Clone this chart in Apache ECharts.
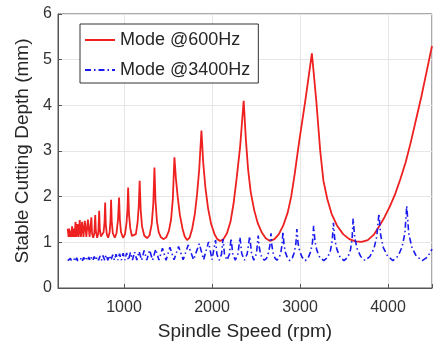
<!DOCTYPE html>
<html>
<head>
<meta charset="utf-8">
<script src="https://cdn.jsdelivr.net/npm/echarts@6/dist/echarts.min.js"></script>
<style>
  html, body { margin: 0; padding: 0; background: #fff; }
  #chart { width: 435px; height: 347px; }
</style>
</head>
<body>
<div id="chart"></div>
<script>
// values (spindle speed in rpm, depth in mm)
var redSpeed = [360, 363, 370, 377, 385, 393, 401, 410, 419, 429, 439, 449, 460, 472, 484, 497, 510, 524, 539, 555, 572, 590, 609,
  629, 637, 650, 663,
  673, 680, 695, 708,
  718, 725, 737, 752, 768, 779,
  786, 793, 805, 820, 837, 847,
  853, 861, 873, 895, 915, 932,
  944, 953, 966, 990, 1012, 1030, 1040,
  1047, 1057, 1072, 1090, 1112, 1135, 1155, 1168,
  1178, 1190, 1205, 1230, 1262, 1290, 1315, 1333,
  1346, 1358, 1375, 1395, 1420, 1451, 1480, 1510, 1535, 1555,
  1573, 1590, 1610, 1635, 1665, 1690, 1717, 1745, 1775, 1805, 1830, 1855,
  1880, 1900, 1925, 1955, 1990, 2030, 2060, 2094, 2130, 2170, 2210, 2245, 2280, 2320,
  2360, 2385, 2410, 2440, 2480, 2520, 2565, 2610, 2660, 2710, 2760, 2810, 2860, 2900, 2940, 2990, 3060,
  3135, 3185, 3230, 3266, 3310, 3360, 3420, 3490, 3560, 3630, 3700, 3770, 3840, 3900, 3960, 4020, 4080, 4140, 4200, 4260, 4320, 4380, 4440, 4500];
var redDepth = [1.3, 1.25, 1.12, 1.3, 1.12, 1.25, 1.12, 1.35, 1.12, 1.3, 1.12, 1.45, 1.12, 1.4, 1.12, 1.49, 1.12, 1.45, 1.12, 1.47, 1.12, 1.5, 1.12,
  1.55, 1.2, 1.1, 1.2,
  1.6, 1.25, 1.1, 1.2,
  1.69, 1.3, 1.13, 1.1, 1.22, 1.45,
  1.87, 1.4, 1.17, 1.1, 1.22, 1.5,
  1.93, 1.45, 1.2, 1.1, 1.2, 1.5,
  1.98, 1.5, 1.22, 1.1, 1.18, 1.45, 1.75,
  2.2, 1.6, 1.3, 1.14, 1.1, 1.18, 1.45, 1.8,
  2.35, 1.7, 1.35, 1.15, 1.09, 1.15, 1.4, 1.85,
  2.64, 1.9, 1.45, 1.22, 1.11, 1.07, 1.11, 1.25, 1.5, 1.95,
  2.86, 2.4, 2.0, 1.6, 1.3, 1.13, 1.05, 1.1, 1.3, 1.62, 2.05, 2.6,
  3.45, 2.75, 2.2, 1.75, 1.4, 1.17, 1.07, 1.03, 1.07, 1.2, 1.45, 1.85, 2.4, 3.1,
  4.1, 3.25, 2.6, 2.1, 1.7, 1.42, 1.22, 1.09, 1.03, 1.07, 1.18, 1.37, 1.65, 2.0, 2.5, 3.2, 4.1,
  5.14, 4.1, 3.0, 2.35, 1.95, 1.62, 1.37, 1.18, 1.07, 1.02, 1.01, 1.05, 1.17, 1.35, 1.55, 1.78, 2.05, 2.38, 2.75, 3.2, 3.7, 4.2, 4.75, 5.3];

var blueSpeed = [360, 370, 380, 391, 402, 414, 426, 438, 450, 462, 475, 488, 501, 514, 528, 542, 556, 570, 585, 600,
  615, 630, 646, 662, 678, 694, 711, 728, 745, 762, 780, 798, 816, 834, 853, 872, 891, 910, 930, 950, 970, 990,
  1010, 1030, 1051, 1073, 1096, 1120, 1146, 1172, 1200, 1229, 1259, 1291, 1325, 1360, 1397, 1437, 1478, 1522,
  1569, 1620, 1672, 1730, 1790, 1855, 1905, 1961, 2000, 2040,
  2056, 2082, 2108, 2125, 2142, 2170, 2198, 2217, 2235, 2265, 2295, 2318, 2338, 2370, 2400, 2428,
  2450, 2475, 2505, 2525,
  2535, 2550, 2570, 2595, 2620, 2640, 2657, 2670,
  2680, 2694, 2714, 2738, 2762, 2782, 2796, 2806,
  2818, 2834, 2857, 2885, 2913, 2936, 2953, 2964,
  2978, 2997, 3025, 3060, 3095, 3122, 3142, 3155,
  3170, 3192, 3225, 3270, 3315, 3346, 3367, 3380,
  3396, 3420, 3455, 3500, 3545, 3574, 3592, 3604,
  3622, 3650, 3690, 3740, 3795, 3840, 3872, 3897,
  3917, 3948, 3995, 4055, 4115, 4160, 4192, 4213,
  4235, 4270, 4320, 4390, 4450, 4500];
var blueDepth = [0.6, 0.64, 0.6, 0.65, 0.6, 0.63, 0.6, 0.65, 0.6, 0.66, 0.6, 0.64, 0.6, 0.66, 0.6, 0.67, 0.6, 0.65, 0.6, 0.68,
  0.6, 0.67, 0.61, 0.69, 0.61, 0.68, 0.61, 0.7, 0.61, 0.71, 0.61, 0.72, 0.61, 0.71, 0.61, 0.73, 0.61, 0.74, 0.61, 0.75, 0.61, 0.76,
  0.61, 0.77, 0.61, 0.78, 0.61, 0.79, 0.61, 0.8, 0.61, 0.82, 0.61, 0.83, 0.61, 0.85, 0.61, 0.87, 0.61, 0.89,
  0.62, 0.91, 0.62, 0.94, 0.62, 0.97, 0.62, 1.01, 0.62, 1.05,
  0.74, 0.61, 0.74, 1.07, 0.74, 0.61, 0.74, 1.09, 0.75, 0.61, 0.75, 1.11, 0.75, 0.61, 0.75, 1.13,
  0.75, 0.61, 0.75, 1.15,
  0.92, 0.76, 0.65, 0.61, 0.65, 0.76, 0.92, 1.2,
  0.94, 0.77, 0.66, 0.61, 0.66, 0.77, 0.95, 1.23,
  0.96, 0.78, 0.66, 0.6, 0.66, 0.78, 0.97, 1.29,
  0.98, 0.8, 0.67, 0.6, 0.67, 0.8, 1.0, 1.36,
  1.02, 0.82, 0.67, 0.6, 0.67, 0.82, 1.05, 1.43,
  1.05, 0.84, 0.68, 0.6, 0.68, 0.84, 1.08, 1.52,
  1.1, 0.86, 0.69, 0.6, 0.69, 0.86, 1.12, 1.63,
  1.15, 0.88, 0.7, 0.6, 0.7, 0.9, 1.2, 1.8,
  1.2, 0.9, 0.7, 0.6, 0.68, 0.85];

var xTicks = [1000, 2000, 3000, 4000];

function zip(xs, ys) {
  return xs.map(function (x, i) { return [x, ys[i]]; });
}

// legend samples drawn as plain line segments (solid / dash-dot)
var iconSolid = 'path://M0,0h30v2h-30z';
var iconDashDot = 'path://M0,0h6v2h-6z M9,0h1.5v2h-1.5z M13.5,0h6v2h-6z M22.5,0h1.5v2h-1.5z M27,0h3v2h-3z';

var chart = echarts.init(document.getElementById('chart'));
var font = 'Liberation Sans, Arial, Helvetica, sans-serif';
var axisCol = '#555';

var option = {
  animation: false,
  textStyle: { fontFamily: font },
  grid: {
    left: 58, right: 0, top: 14, bottom: 59,
    show: true, borderColor: axisCol, borderWidth: 1
  },
  legend: {
    orient: 'vertical',
    left: 80, top: 24,
    padding: [7, 8, 4, 5],
    itemGap: 12,
    itemWidth: 30,
    itemHeight: 14,
    symbolKeepAspect: true,
    borderColor: '#333',
    borderWidth: 1,
    backgroundColor: '#fff',
    textStyle: { fontSize: 18, color: '#262626', fontFamily: font },
    data: [
      { name: 'Mode @600Hz', icon: iconSolid },
      { name: 'Mode @3400Hz', icon: iconDashDot }
    ]
  },
  xAxis: {
    type: 'value',
    min: 250, max: 4500,
    name: 'Spindle Speed (rpm)',
    nameLocation: 'middle',
    nameGap: 34,
    nameTextStyle: { fontSize: 19, color: '#262626' },
    axisLine: { lineStyle: { color: axisCol } },
    axisTick: { inside: true, length: 4, lineStyle: { color: axisCol } },
    axisLabel: {
      fontSize: 16, color: '#333', margin: 12,
      formatter: function (v) { return xTicks.indexOf(v) >= 0 ? String(v) : ''; }
    },
    splitLine: { show: true, lineStyle: { color: '#e6e6e6' } }
  },
  yAxis: {
    type: 'value',
    min: 0, max: 6, interval: 1,
    name: 'Stable Cutting Depth (mm)',
    nameLocation: 'middle',
    nameGap: 25,
    nameTextStyle: { fontSize: 19, color: '#262626' },
    axisLine: { show: true, lineStyle: { color: axisCol } },
    axisTick: { show: true, inside: true, length: 4, lineStyle: { color: axisCol } },
    axisLabel: { fontSize: 16, color: '#333', margin: 6 },
    splitLine: { show: true, lineStyle: { color: '#e6e6e6' } }
  },
  series: [
    {
      name: 'Mode @600Hz',
      type: 'line',
      symbol: 'none',
      color: '#ee2020',
      lineStyle: { width: 1.8, color: '#ee2020' },
      data: zip(redSpeed, redDepth)
    },
    {
      name: 'Mode @3400Hz',
      type: 'line',
      symbol: 'none',
      color: '#1a1aee',
      lineStyle: { width: 1.6, color: '#1a1aee', type: [6, 3, 1.5, 3] },
      data: zip(blueSpeed, blueDepth)
    }
  ]
};

option && chart.setOption(option);
</script>
</body>
</html>
